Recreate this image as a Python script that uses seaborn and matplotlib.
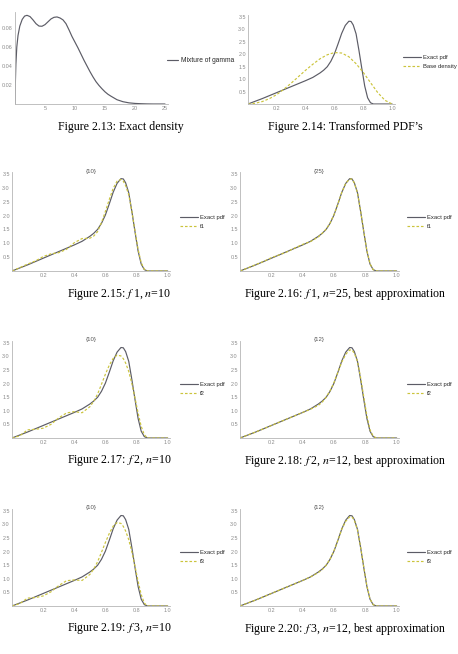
import numpy as np
import pandas as pd
import seaborn as sns
import matplotlib.pyplot as plt
from matplotlib.ticker import MultipleLocator

# ---- data ----
mix_x = [0, 0.05, 0.15, 0.3, 0.5, 0.8, 1.2, 1.6, 2.0, 2.5, 3.0, 3.5, 4.0, 4.5, 5.0, 5.5,
         6.0, 6.5, 7.0, 7.5, 8.0, 8.5, 9.0, 9.5, 10.0, 10.5, 11.0, 11.5, 12.0, 12.5,
         13.0, 13.5, 14.0, 14.5, 15.0, 15.5, 16.0, 17.0, 18.0, 19.0, 20.0, 21.0, 22.0,
         23.0, 25.0]
mix_y = [0, 0.02, 0.042, 0.06, 0.072, 0.082, 0.089, 0.0925, 0.0933, 0.092, 0.0885,
         0.0845, 0.082, 0.0818, 0.0835, 0.0865, 0.0895, 0.0912, 0.0916, 0.0905, 0.0885,
         0.0845, 0.078, 0.071, 0.065, 0.059, 0.0525, 0.046, 0.040, 0.034, 0.0285,
         0.0235, 0.0195, 0.016, 0.0128, 0.0102, 0.0082, 0.0045, 0.0024, 0.0012, 0.0006,
         0.0003, 0.0001, 0.0, 0.0]

base_x = [0, 0.05, 0.1, 0.15, 0.2, 0.25, 0.3, 0.35, 0.4, 0.45, 0.5, 0.55, 0.6, 0.65,
          0.7, 0.75, 0.8, 0.85, 0.9, 0.95, 1.0]
base_y = [0, 0.03, 0.1, 0.22, 0.38, 0.6, 0.84, 1.1, 1.36, 1.6, 1.82, 1.98, 2.07, 2.05,
          1.9, 1.62, 1.27, 0.86, 0.46, 0.15, 0]

u = [0, 0.05, 0.1, 0.15, 0.2, 0.25, 0.3, 0.35, 0.4, 0.45, 0.5, 0.525, 0.55, 0.575, 0.6,
     0.625, 0.65, 0.675, 0.7, 0.715, 0.73, 0.75, 0.77, 0.79, 0.81, 0.83, 0.85, 0.87,
     0.9, 0.95, 1.0]
exact = [0, 0.11, 0.22, 0.34, 0.46, 0.58, 0.70, 0.82, 0.94, 1.07, 1.25, 1.36, 1.50,
         1.72, 2.02, 2.42, 2.84, 3.16, 3.33, 3.32, 3.18, 2.82, 2.15, 1.42, 0.72, 0.25,
         0.05, 0, 0, 0, 0]
f1_n10 = [0, 0.12, 0.25, 0.36, 0.52, 0.62, 0.66, 0.78, 1.02, 1.17, 1.18, 1.26, 1.42,
          1.75, 2.15, 2.58, 2.98, 3.24, 3.30, 3.24, 3.08, 2.75, 2.15, 1.45, 0.78, 0.30,
          0.06, 0, 0, 0, 0]
f1_n25 = [0, 0.11, 0.23, 0.34, 0.48, 0.58, 0.69, 0.83, 0.96, 1.06, 1.23, 1.36, 1.51,
          1.73, 2.03, 2.42, 2.84, 3.16, 3.32, 3.31, 3.17, 2.82, 2.16, 1.43, 0.73, 0.26,
          0.05, 0, 0, 0, 0]
f2_n10 = [0, 0.08, 0.30, 0.32, 0.36, 0.50, 0.74, 0.92, 0.97, 0.93, 1.15, 1.35, 1.62,
          1.98, 2.35, 2.68, 2.93, 3.05, 3.02, 2.92, 2.76, 2.45, 2.00, 1.48, 0.92, 0.43,
          0.12, 0, 0, 0, 0]
f2_n12 = [0, 0.11, 0.22, 0.34, 0.46, 0.58, 0.70, 0.82, 0.94, 1.06, 1.20, 1.32, 1.50,
          1.74, 2.04, 2.42, 2.80, 3.08, 3.24, 3.24, 3.12, 2.82, 2.22, 1.52, 0.82, 0.30,
          0.07, 0, 0, 0, 0]
f3_n10 = [0, 0.09, 0.29, 0.31, 0.37, 0.52, 0.75, 0.93, 0.96, 0.94, 1.16, 1.36, 1.63,
          1.98, 2.34, 2.67, 2.94, 3.07, 3.04, 2.93, 2.76, 2.44, 1.99, 1.47, 0.91, 0.42,
          0.11, 0, 0, 0, 0]
f3_n12 = [0, 0.11, 0.22, 0.34, 0.46, 0.58, 0.70, 0.82, 0.94, 1.07, 1.23, 1.34, 1.50,
          1.73, 2.03, 2.42, 2.83, 3.12, 3.28, 3.28, 3.15, 2.80, 2.16, 1.44, 0.74, 0.26,
          0.05, 0, 0, 0, 0]

captions = ["Figure 2.13: Exact density", "Figure 2.14: Transformed PDF\u2019s",
            "Figure 2.15: $f\\;$1, $n$=10", "Figure 2.16: $f\\;$1, $n$=25, best approximation",
            "Figure 2.17: $f\\;$2, $n$=10", "Figure 2.18: $f\\;$2, $n$=12, best approximation",
            "Figure 2.19: $f\\;$3, $n$=10", "Figure 2.20: $f\\;$3, $n$=12, best approximation"]

# ---- style ----
sns.set_style("white")
plt.rcParams['font.family'] = ['Liberation Sans', 'DejaVu Sans']
plt.rcParams['mathtext.fontset'] = 'stix'

SOLID = '#5c5c66'
DASH = '#cbc43c'
AXC = '#b5b5b5'
W, H = 458, 654

fig = plt.figure(figsize=(W / 100, H / 100), dpi=100)


def rect(l, t, r, b):
    return [l / W, 1 - b / H, (r - l) / W, (b - t) / H]


def style_axes(ax, xmaj, xmin, ymaj, ymin, fmt_x, fmt_y):
    for s in ['top', 'right']:
        ax.spines[s].set_visible(False)
    for s in ['left', 'bottom']:
        ax.spines[s].set_color(AXC)
        ax.spines[s].set_linewidth(0.6)
    ax.xaxis.set_major_locator(MultipleLocator(xmaj))
    ax.xaxis.set_minor_locator(MultipleLocator(xmin))
    ax.yaxis.set_major_locator(MultipleLocator(ymaj))
    ax.yaxis.set_minor_locator(MultipleLocator(ymin))
    ax.tick_params(which='both', direction='in', color=AXC, width=0.5,
                   labelsize=3.9, labelcolor='#8a8a8a', pad=1.5)
    ax.tick_params(which='major', length=2.2)
    ax.tick_params(which='minor', length=1.1)
    ax.xaxis.set_major_formatter(lambda v, p: '' if abs(v) < 1e-9 else fmt_x.format(v))
    ax.yaxis.set_major_formatter(lambda v, p: '' if abs(v) < 1e-9 else fmt_y.format(v))
    ax.set_xlabel('')
    ax.set_ylabel('')


def add_legend(ax, x0, ymid, hl=3.0, fs=4.2):
    ax.legend(loc='center left', bbox_to_anchor=(x0 / W, 1 - ymid / H),
              bbox_transform=fig.transFigure, frameon=False, fontsize=fs,
              handlelength=hl, handletextpad=0.5, labelspacing=0.8,
              borderpad=0, borderaxespad=0)


dash_style = (0, (2.2, 1.6))

# Figure 2.13
ax = fig.add_axes(rect(15, 12, 168, 104))
sns.lineplot(x=mix_x, y=mix_y, ax=ax, color=SOLID, lw=0.85, label='Mixture of gamma')
ax.set_xlim(0, 25.5)
ax.set_ylim(0, 0.0968)
style_axes(ax, 5, 1, 0.02, 0.005, '{:g}', '{:.2f}')
add_legend(ax, 167, 61, hl=1.6, fs=4.8)

# Figure 2.14
ax = fig.add_axes(rect(248, 15, 395, 104))
sns.lineplot(x=u, y=exact, ax=ax, color=SOLID, lw=0.85, label='Exact pdf')
sns.lineplot(x=base_x, y=base_y, ax=ax, color=DASH, lw=0.85, linestyle=dash_style,
             label='Base density')
ax.set_xlim(0, 1.02)
ax.set_ylim(0, 3.58)
style_axes(ax, 0.2, 0.05, 0.5, 0.1, '{:.1f}', '{:.1f}')
add_legend(ax, 403, 62)

# approximation panels
panels = [
    (f1_n10, 'f1', '{10}', (12, 172, 170, 271)),
    (f1_n25, 'f1', '{25}', (240, 172, 399, 271)),
    (f2_n10, 'f2', '{10}', (12, 341, 170, 438)),
    (f2_n12, 'f2', '{12}', (240, 341, 399, 438)),
    (f3_n10, 'f3', '{10}', (12, 509, 170, 606)),
    (f3_n12, 'f3', '{12}', (240, 509, 399, 606)),
]
for approx, name, title, (l, t, r, b) in panels:
    ax = fig.add_axes(rect(l, t, r, b))
    sns.lineplot(x=u, y=exact, ax=ax, color=SOLID, lw=0.85, label='Exact pdf')
    sns.lineplot(x=u, y=approx, ax=ax, color=DASH, lw=0.85, linestyle=dash_style,
                 label=name)
    ax.set_xlim(0, 1.015)
    ax.set_ylim(0, 3.57)
    style_axes(ax, 0.2, 0.05, 0.5, 0.1, '{:.1f}', '{:.1f}')
    fig.text((l + r) / 2 / W, 1 - (t - 1) / H, title, ha='center', va='center',
             fontsize=4.3, color='#555555')
    lx = 180 if l < 100 else 407
    add_legend(ax, lx, b - 49)

# captions
cap_pos = [(121, 127), (345, 127), (119, 294), (345, 294),
           (119, 461), (345, 461), (119, 629), (345, 629)]
for txt, (cx, cy) in zip(captions, cap_pos):
    fig.text(cx / W, 1 - cy / H, txt, ha='center', va='center', fontsize=8.6,
             family='Liberation Serif', color='black')

fig.savefig('out.png', dpi=100)
